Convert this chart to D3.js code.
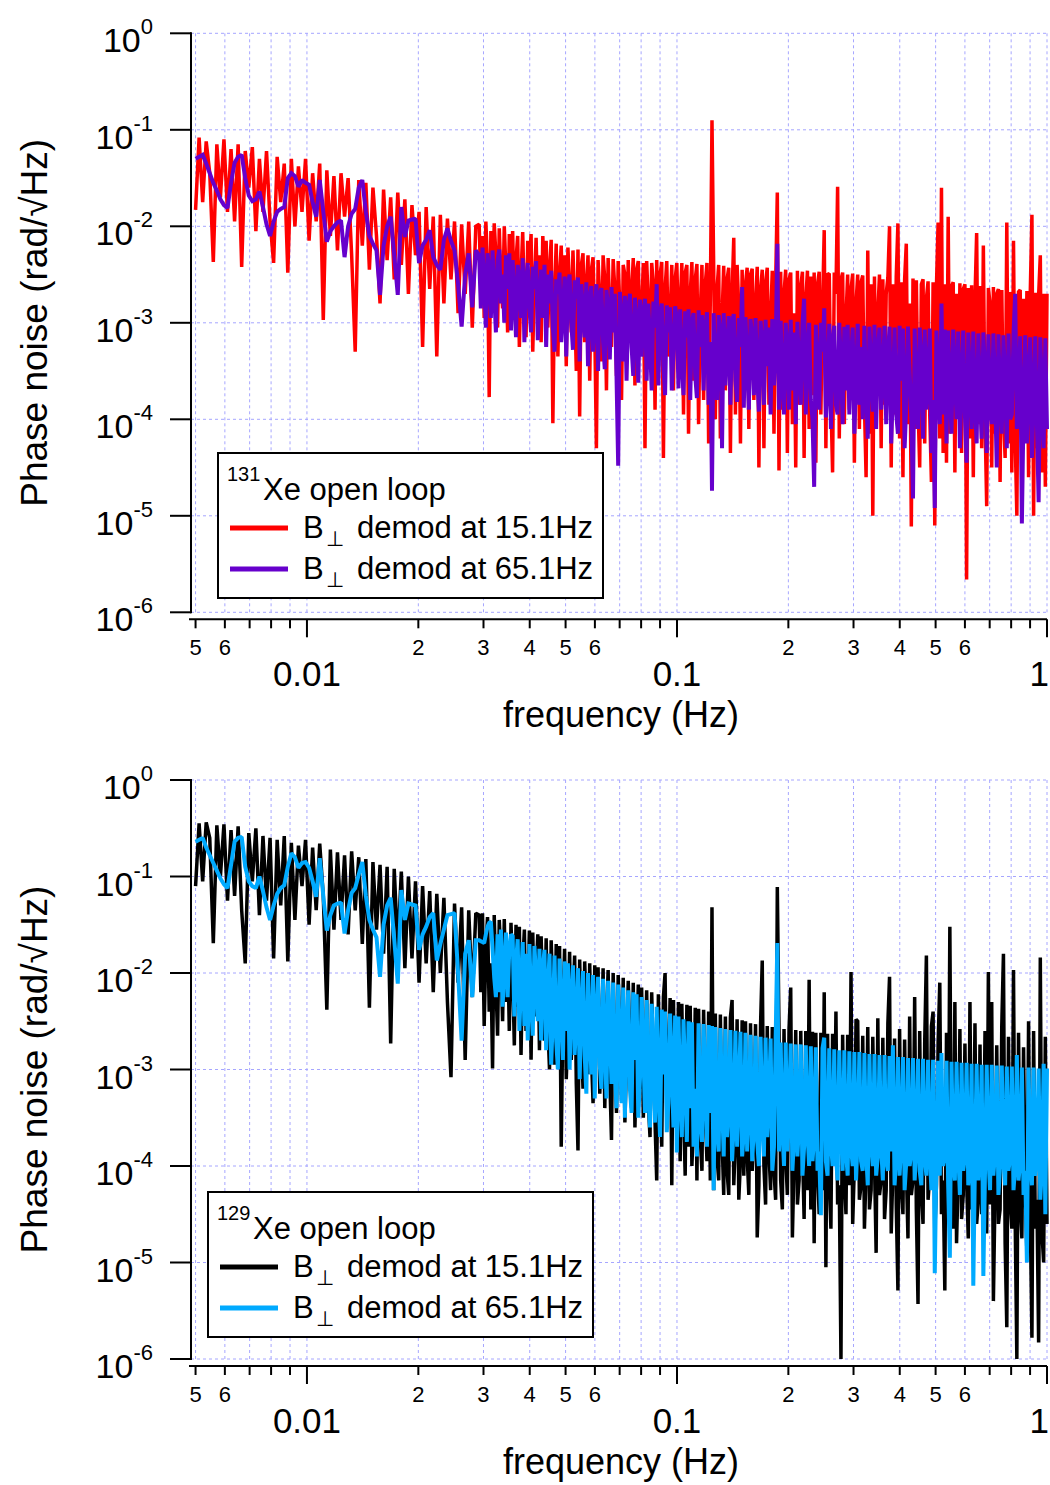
<!DOCTYPE html>
<html>
<head>
<meta charset="utf-8">
<script src="https://cdn.jsdelivr.net/npm/d3@7"></script>
<style>
  body { margin: 0; background: #fff; }
  svg { display: block; }
  text { font-family: "Liberation Sans", Arial, sans-serif; fill: #000; }
</style>
</head>
<body>
<div id="chart"></div>
<script>
// Phase noise spectra, stored as log10(rad/√Hz).
// First 80 bins: log-spaced 0.005–0.0286 Hz; remaining 340 bins: log-spaced 0.0292–1 Hz.
const lowBand = [0.005, 0.0286], lowBins = 80;
const highBand = [0.0292, 1];

// 131Xe, B⊥ demod at 15.1 Hz (red)
const xe131Demod15 = [
  -1.83,-1.08,-1.75,-1.12,-1.45,-2.37,-1.15,-1.70,-1.10,-1.85,
  -1.20,-1.95,-1.15,-2.42,-1.22,-1.60,-1.18,-2.05,-1.30,-1.85,
  -1.22,-1.95,-2.38,-1.28,-1.75,-1.35,-2.48,-1.30,-2.00,-1.38,
  -1.85,-1.30,-2.15,-1.45,-1.95,-1.35,-2.97,-1.42,-2.10,-1.48,
  -2.25,-1.45,-1.90,-1.50,-2.30,-3.30,-1.52,-2.20,-1.55,-2.45,
  -1.60,-2.10,-2.80,-1.62,-2.35,-1.70,-2.55,-1.65,-2.40,-1.72,
  -2.70,-1.78,-2.30,-1.85,-3.25,-1.80,-2.65,-1.90,-3.35,-1.88,
  -2.80,-1.92,-2.55,-1.95,-2.90,-1.98,-2.70,-1.95,-3.05,-2.00,
  // 0.0292 Hz and up
  -1.98,-2.60,-2.10,-2.95,-1.95,-2.40,-3.77,-2.05,-2.70,-1.97,-2.30,-3.05,-2.02,-2.55,-2.85,-2.00,-2.45,-3.10,-2.08,-2.65,
  -2.05,-2.90,-2.35,-2.10,-3.25,-2.50,-2.06,-2.75,-3.15,-2.15,-2.40,-2.08,-3.30,-2.60,-2.12,-2.85,-2.30,-3.20,-2.10,-2.55,
  -2.15,-3.05,-2.45,-2.14,-4.04,-2.70,-2.18,-3.35,-2.50,-2.20,-2.95,-2.30,-3.45,-2.22,-2.65,-3.10,-2.25,-2.80,-3.50,-2.24,
  -3.97,-2.40,-2.28,-3.20,-2.60,-2.30,-3.60,-2.45,-2.32,-3.05,-4.30,-2.35,-2.75,-3.40,-2.30,-2.55,-3.70,-2.33,-2.90,-3.25,
  -2.34,-2.65,-3.55,-2.36,-2.85,-3.80,-2.40,-2.50,-3.30,-2.35,-3.05,-2.70,-2.33,-3.65,-2.45,-2.36,-3.20,-2.90,-2.38,-4.30,
  -2.36,-2.80,-3.45,-2.38,-2.60,-3.90,-2.35,-3.15,-2.50,-2.37,-4.40,-2.65,-2.36,-3.35,-2.95,-2.40,-3.70,-2.55,-2.38,-3.10,
  -2.85,-2.38,-3.95,-2.48,-2.40,-4.15,-2.70,-2.37,-3.60,-2.55,-2.39,-4.05,-2.90,-2.40,-3.80,-2.60,-2.38,-4.25,-2.75,-0.90,
  -2.42,-4.00,-2.65,-2.40,-4.20,-2.95,-2.41,-3.70,-2.55,-2.43,-4.35,-2.70,-2.12,-3.95,-2.40,-2.85,-4.25,-2.45,-3.60,-2.60,
  -2.43,-4.10,-2.50,-2.44,-3.80,-2.80,-2.42,-4.50,-2.65,-2.45,-4.30,-2.58,-2.43,-3.85,-2.95,-2.46,-4.15,-2.60,-1.65,-4.53,
  -2.47,-3.90,-2.70,-2.45,-4.35,-2.55,-2.48,-4.05,-2.90,-4.50,-2.46,-3.85,-2.62,-2.47,-4.40,-2.75,-2.46,-4.10,-2.52,-3.75,
  -2.48,-4.45,-2.60,-2.47,-3.95,-2.85,-2.04,-4.30,-2.50,-2.49,-3.80,-4.55,-2.48,-2.70,-1.59,-4.20,-2.55,-2.48,-4.05,-2.95,
  -2.50,-3.90,-2.65,-2.49,-4.45,-2.80,-2.50,-4.10,-2.58,-2.51,-3.85,-4.60,-2.25,-4.15,-2.60,-5.00,-2.52,-4.00,-2.90,-2.50,
  -4.30,-2.55,-3.85,-2.70,-2.53,-2.00,-4.50,-2.60,-3.95,-2.52,-1.97,-4.20,-2.58,-4.60,-2.55,-2.18,-4.05,-2.80,-5.11,-2.54,
  -4.10,-2.56,-3.85,-4.50,-2.60,-2.55,-4.25,-2.75,-2.57,-3.95,-4.65,-2.58,-5.10,-2.62,-1.96,-4.20,-1.60,-4.35,-2.60,-4.45,
  -1.90,-4.15,-2.62,-2.58,-4.55,-2.70,-3.95,-2.59,-4.35,-2.65,-2.60,-5.66,-2.64,-4.20,-2.61,-4.60,-2.75,-2.07,-4.05,-2.62,
  -4.30,-2.20,-4.00,-4.90,-2.64,-2.80,-4.50,-2.63,-4.15,-2.70,-2.65,-4.65,-2.66,-3.95,-4.40,-1.96,-4.25,-2.68,-4.55,-2.15,
  -4.20,-5.00,-2.68,-2.66,-4.45,-2.75,-4.05,-2.67,-4.60,-2.70,-1.88,-5.00,-2.69,-4.30,-2.72,-2.30,-4.55,-2.70,-4.70,-2.70
];

// 131Xe, B⊥ demod at 65.1 Hz (purple)
const xe131Demod65 = [
  -1.30,-1.28,-1.26,-1.35,-1.45,-1.55,-1.63,-1.72,-1.78,-1.81,
  -1.55,-1.34,-1.28,-1.26,-1.50,-1.68,-1.74,-1.72,-1.64,-1.80,
  -1.98,-2.10,-1.95,-1.85,-1.82,-1.80,-1.50,-1.45,-1.48,-1.59,
  -1.52,-1.55,-1.57,-1.75,-1.90,-1.52,-1.85,-2.16,-2.05,-2.00,
  -1.96,-1.94,-2.32,-2.00,-1.87,-1.82,-1.60,-1.52,-1.85,-2.10,
  -2.18,-2.25,-2.71,-2.20,-2.00,-1.90,-2.30,-2.71,-1.80,-2.11,
  -1.94,-1.93,-1.92,-2.38,-2.20,-2.14,-2.04,-2.32,-2.40,-2.45,
  -2.14,-2.02,-2.15,-2.25,-2.60,-3.04,-2.50,-2.28,-2.84,-2.25,
  // 0.0292 Hz and up
  -2.30,-2.85,-2.22,-2.60,-3.05,-2.28,-2.45,-2.95,-2.25,-2.70,-3.10,-2.35,-2.24,-2.80,-2.50,-3.00,-2.30,-2.65,-2.28,-3.08,
  -2.35,-2.75,-3.15,-2.40,-2.55,-2.95,-2.33,-3.20,-2.60,-2.38,-2.85,-3.10,-2.42,-2.65,-2.36,-3.18,-2.75,-2.45,-2.95,-2.40,
  -3.25,-2.50,-2.80,-2.46,-3.05,-3.30,-2.55,-2.70,-2.48,-3.20,-2.90,-2.52,-3.35,-2.60,-2.50,-3.00,-3.28,-2.56,-2.75,-2.53,
  -3.40,-2.60,-2.90,-3.15,-2.58,-3.45,-2.75,-2.62,-3.30,-2.95,-2.60,-3.50,-2.70,-2.64,-3.20,-3.48,-2.66,-2.85,-3.38,-2.63,
  -3.10,-2.70,-3.55,-4.48,-2.68,-2.95,-3.40,-2.72,-3.60,-2.85,-2.70,-3.25,-3.55,-2.74,-3.00,-3.62,-2.76,-3.35,-2.90,-2.75,
  -3.60,-2.80,-3.20,-3.70,-2.78,-3.05,-2.60,-3.65,-2.90,-2.80,-3.45,-3.75,-2.82,-3.10,-2.84,-3.70,-3.30,-2.83,-2.95,-3.68,
  -2.86,-3.40,-3.75,-2.88,-3.15,-2.86,-3.80,-3.00,-2.90,-3.55,-3.78,-2.87,-3.25,-2.92,-3.70,-3.05,-2.89,-3.85,-3.20,-4.74,
  -2.90,-3.50,-3.80,-2.92,-3.10,-4.30,-2.90,-3.65,-3.30,-2.93,-3.85,-3.00,-2.91,-3.60,-3.82,-2.95,-3.25,-2.63,-3.88,-2.94,
  -3.40,-3.90,-2.96,-3.15,-3.75,-2.95,-3.55,-3.92,-2.98,-3.20,-3.85,-2.97,-3.45,-3.05,-3.95,-2.96,-3.65,-3.30,-2.18,-3.90,
  -2.98,-3.60,-3.95,-3.00,-3.25,-3.90,-2.97,-3.70,-3.10,-4.05,-2.99,-3.50,-3.85,-3.02,-2.75,-3.95,-3.35,-3.00,-3.80,-4.00,
  -4.70,-3.02,-3.55,-3.90,-3.00,-3.30,-2.85,-3.98,-3.65,-3.01,-4.10,-3.20,-3.03,-3.85,-3.95,-3.00,-3.45,-4.05,-3.04,-3.70,
  -3.02,-3.95,-3.40,-3.05,-4.15,-3.60,-3.01,-3.85,-3.25,-4.00,-3.03,-3.70,-4.20,-3.04,-3.50,-3.92,-3.02,-4.10,-3.30,-3.05,
  -3.90,-3.55,-3.03,-4.05,-3.35,-3.04,-4.25,-3.70,-3.05,-3.95,-4.15,-3.03,-3.60,-3.06,-4.30,-3.85,-3.04,-3.50,-4.00,-4.82,
  -3.06,-3.75,-4.10,-3.05,-3.45,-4.20,-3.07,-3.90,-3.60,-3.06,-4.35,-3.80,-4.92,-3.08,-3.55,-4.05,-2.80,-3.95,-3.07,-4.25,
  -3.08,-3.70,-4.15,-3.07,-3.50,-4.00,-3.09,-4.30,-3.65,-3.08,-3.95,-4.45,-3.10,-3.60,-4.10,-3.09,-3.85,-4.25,-3.11,-3.75,
  -4.20,-3.10,-3.55,-4.35,-3.12,-3.90,-4.05,-3.11,-3.70,-4.50,-3.12,-3.80,-4.15,-3.13,-3.65,-4.30,-3.11,-4.00,-3.95,-3.12,
  -2.70,-4.10,-3.75,-3.14,-5.08,-3.90,-3.13,-4.25,-3.60,-3.15,-4.40,-3.85,-3.14,-4.05,-4.86,-3.15,-3.70,-4.30,-3.16,-4.10
];

// 129Xe, B⊥ demod at 15.1 Hz (black)
const xe129Demod15 = [
  -1.10,-0.45,-1.05,-0.44,-0.60,-1.69,-0.47,-1.00,-0.46,-1.25,
  -0.52,-1.20,-0.48,-1.35,-1.90,-0.55,-1.05,-0.50,-1.40,-0.58,
  -1.25,-0.60,-1.85,-0.62,-1.30,-0.58,-1.88,-0.65,-1.45,-0.68,
  -1.10,-0.62,-1.50,-0.70,-1.35,-0.66,-1.20,-2.38,-0.72,-1.55,
  -0.75,-1.45,-0.78,-1.60,-0.74,-1.35,-0.80,-1.70,-0.82,-2.36,
  -0.85,-1.55,-0.88,-1.80,-0.90,-2.73,-0.92,-1.75,-0.95,-1.95,
  -1.00,-1.85,-1.05,-2.10,-1.10,-1.90,-1.15,-2.20,-1.18,-2.00,
  -1.22,-2.30,-3.08,-1.28,-2.10,-1.32,-2.90,-1.35,-2.25,-1.38,
  // 0.0292 Hz and up
  -1.40,-2.20,-1.38,-2.55,-1.75,-1.42,-2.40,-1.90,-2.99,-1.40,-2.10,-2.65,-1.45,-1.85,-2.50,-1.44,-2.30,-1.70,-2.60,-1.48,
  -2.00,-2.75,-1.50,-2.35,-1.52,-2.85,-1.90,-1.55,-2.60,-2.20,-1.56,-2.90,-1.58,-2.45,-2.05,-1.60,-2.80,-1.62,-2.30,-2.70,
  -1.64,-2.55,-3.00,-1.66,-2.25,-2.95,-1.70,-2.70,-1.72,-3.80,-2.40,-1.75,-3.10,-2.60,-1.78,-2.90,-2.30,-1.82,-3.15,-3.84,
  -1.86,-2.65,-3.20,-1.88,-2.45,-3.05,-1.90,-2.85,-3.35,-1.92,-2.60,-1.94,-3.25,-2.75,-1.95,-3.40,-2.50,-1.97,-3.10,-3.73,
  -2.00,-2.80,-3.45,-2.02,-2.60,-3.30,-2.05,-3.55,-2.90,-2.08,-2.70,-3.40,-2.10,-3.60,-2.85,-2.12,-3.20,-2.15,-3.50,-2.95,
  -2.18,-3.35,-3.70,-2.20,-2.90,-3.55,-4.15,-2.22,-3.10,-3.80,-2.25,-2.00,-3.45,-3.05,-2.26,-4.20,-2.28,-3.60,-3.25,-2.30,
  -3.95,-2.32,-3.40,-4.10,-2.33,-3.80,-2.34,-4.00,-3.55,-2.36,-4.15,-2.37,-3.70,-4.05,-2.38,-3.45,-3.95,-2.40,-4.15,-1.32,
  -4.25,-2.42,-3.90,-4.15,-2.43,-3.70,-4.30,-2.45,-4.05,-4.30,-2.46,-2.28,-4.20,-3.75,-2.48,-4.35,-3.95,-2.49,-4.10,-2.50,
  -3.90,-4.30,-2.52,-4.05,-3.70,-2.53,-4.74,-4.20,-2.54,-1.87,-4.00,-4.40,-2.55,-3.85,-4.25,-2.56,-4.05,-4.35,-1.11,-2.57,
  -4.15,-4.45,-2.58,-3.90,-4.30,-2.58,-2.15,-4.74,-3.95,-2.59,-4.40,-4.15,-2.60,-3.80,-4.55,-2.60,-4.25,-2.07,-4.45,-2.61,
  -4.80,-2.62,-4.05,-4.50,-2.62,-4.25,-2.20,-5.05,-2.63,-4.15,-4.65,-2.63,-3.95,-2.40,-4.40,-4.20,-6.00,-2.64,-4.10,-4.50,
  -2.64,-4.20,-1.99,-4.60,-4.00,-2.48,-2.50,-4.35,-4.20,-2.65,-4.65,-4.05,-2.56,-4.45,-4.25,-2.66,-3.95,-4.90,-2.47,-4.30,
  -4.15,-2.67,-4.55,-4.25,-2.52,-2.04,-4.70,-4.05,-2.68,-4.40,-5.29,-2.58,-4.20,-4.50,-2.69,-4.00,-4.75,-2.45,-4.30,-4.15,
  -2.25,-4.45,-5.43,-2.60,-4.25,-4.60,-2.71,-1.82,-4.35,-4.10,-2.55,-2.40,-4.70,-4.20,-2.72,-2.10,-4.50,-4.15,-5.29,-2.62,
  -4.40,-1.52,-4.25,-4.65,-2.30,-4.80,-4.10,-2.58,-4.55,-4.30,-2.73,-4.15,-4.75,-2.30,-4.45,-4.20,-2.52,-4.60,-4.35,-2.74,
  -4.50,-4.20,-2.60,-4.70,-1.99,-4.40,-2.30,-5.40,-4.25,-2.75,-4.60,-4.45,-2.55,-1.80,-4.80,-5.67,-2.66,-4.35,-4.65,-1.97,
  -4.55,-6.00,-2.62,-4.40,-4.75,-2.77,-4.25,-4.90,-2.50,-4.50,-5.78,-2.60,-4.65,-4.35,-5.83,-1.84,-4.70,-5.00,-2.66,-4.60
];

// 129Xe, B⊥ demod at 65.1 Hz (light blue)
const xe129Demod65 = [
  -0.64,-0.62,-0.60,-0.70,-0.78,-0.86,-0.94,-1.02,-1.08,-1.12,
  -0.88,-0.64,-0.60,-0.59,-0.90,-1.05,-1.10,-1.12,-1.00,-1.15,
  -1.32,-1.45,-1.30,-1.18,-1.12,-1.09,-0.90,-0.76,-0.80,-0.91,
  -0.86,-0.85,-0.91,-1.05,-1.21,-0.81,-1.20,-1.56,-1.40,-1.30,
  -1.28,-1.27,-1.59,-1.35,-1.17,-1.12,-0.98,-0.85,-1.20,-1.45,
  -1.55,-1.63,-2.04,-1.50,-1.30,-1.22,-1.65,-2.11,-1.14,-1.45,
  -1.28,-1.29,-1.30,-1.76,-1.60,-1.52,-1.42,-1.38,-1.87,-1.70,
  -1.55,-1.40,-1.39,-1.38,-2.00,-2.70,-1.80,-1.66,-2.25,-1.66,
  // 0.0292 Hz and up
  -1.66,-1.67,-1.68,-1.69,-1.60,-1.52,-1.48,-1.47,-1.75,-2.05,-2.25,-1.60,-2.20,-1.55,-2.35,-1.95,-1.58,-2.25,-1.75,-1.60,
  -1.62,-2.45,-1.90,-1.65,-2.60,-2.10,-1.68,-2.55,-1.80,-2.70,-1.70,-2.30,-2.65,-1.72,-2.05,-2.50,-1.75,-2.70,-1.95,-1.76,
  -2.80,-2.20,-1.80,-2.95,-2.45,-1.82,-2.70,-3.00,-1.85,-2.35,-2.90,-1.88,-2.60,-1.90,-3.00,-2.25,-1.92,-2.85,-2.50,-1.95,
  -3.10,-2.40,-1.98,-2.85,-3.25,-2.00,-2.60,-3.05,-2.02,-3.30,-2.45,-2.04,-2.95,-3.20,-2.06,-2.70,-3.30,-2.08,-2.55,-3.15,
  -2.10,-3.00,-3.40,-2.12,-2.75,-3.35,-2.15,-3.50,-2.60,-2.18,-3.20,-3.45,-2.20,-2.90,-2.22,-3.50,-3.10,-2.25,-2.80,-3.45,
  -2.28,-3.30,-3.60,-2.32,-2.95,-3.55,-2.35,-3.20,-3.70,-2.38,-3.05,-2.40,-3.65,-3.35,-2.42,-3.00,-3.60,-2.44,-3.86,-2.45,
  -3.25,-3.70,-2.48,-3.10,-3.75,-2.50,-3.40,-2.51,-3.80,-3.20,-3.90,-2.52,-3.55,-3.75,-2.53,-3.15,-3.80,-2.54,-3.45,-2.55,
  -4.25,-2.56,-3.60,-3.85,-2.57,-3.30,-3.90,-2.58,-3.70,-3.40,-2.59,-3.95,-3.55,-2.60,-3.80,-3.25,-2.61,-3.90,-3.65,-2.62,
  -3.85,-3.40,-2.64,-3.95,-3.60,-2.65,-3.75,-4.00,-2.66,-3.50,-3.90,-2.67,-3.70,-3.35,-2.68,-4.05,-3.80,-2.69,-1.69,-3.85,
  -2.72,-3.60,-4.00,-2.72,-3.85,-3.45,-2.73,-4.05,-3.70,-2.74,-3.90,-3.55,-2.74,-4.10,-3.80,-2.75,-3.65,-4.00,-2.76,-3.95,
  -3.70,-2.77,-4.05,-3.85,-4.51,-2.78,-2.67,-3.95,-4.10,-2.78,-3.75,-4.00,-2.79,-3.90,-4.15,-2.80,-3.60,-4.05,-2.80,-3.85,
  -4.10,-2.81,-3.80,-4.00,-2.82,-4.15,-3.70,-2.82,-3.95,-4.05,-2.83,-3.85,-4.20,-2.84,-3.75,-4.00,-2.84,-4.10,-3.90,-2.85,
  -3.80,-4.15,-2.85,-3.95,-4.05,-2.86,-3.85,-2.75,-4.20,-3.90,-2.87,-4.10,-3.75,-2.87,-4.25,-3.95,-2.88,-4.00,-3.85,-2.88,
  -4.15,-3.80,-2.89,-4.05,-4.20,-2.89,-3.90,-4.10,-2.90,-3.85,-4.25,-2.90,-5.11,-3.95,-2.91,-4.10,-2.83,-4.00,-3.90,-2.91,
  -4.20,-4.95,-2.92,-3.95,-4.15,-2.92,-3.85,-4.30,-2.93,-4.05,-3.90,-2.93,-4.20,-4.00,-2.94,-5.24,-3.95,-2.94,-4.15,-3.85,
  -2.95,-5.14,-4.05,-2.95,-3.90,-4.25,-2.95,-4.10,-3.85,-2.96,-4.30,-4.00,-2.96,-3.95,-4.20,-2.97,-4.05,-3.90,-2.97,-4.25,
  -4.00,-2.85,-4.15,-3.95,-2.98,-4.30,-4.05,-5.00,-2.98,-3.90,-4.20,-2.98,-4.10,-3.95,-2.99,-4.35,-4.00,-2.94,-4.50,-2.99
];

const yDecades = [0, -1, -2, -3, -4, -5, -6];
const xMajorLabels = { 0.01: '0.01', 0.1: '0.1', 1: '1' };
const xMinorLabelDigits = [2, 3, 4, 5, 6];

const panels = [
    {
        top: 33.3,
        isotope: '131',
        legendAt: [218, 453],
        series: [
            { values: xe131Demod15, color: '#ff0000', width: 3.5, label: 'demod at 15.1Hz' },
            { values: xe131Demod65, color: '#6600cc', width: 4, label: 'demod at 65.1Hz' }
        ]
    },
    {
        top: 780,
        isotope: '129',
        legendAt: [208, 1192],
        series: [
            { values: xe129Demod15, color: '#000000', width: 3.5, label: 'demod at 15.1Hz' },
            { values: xe129Demod65, color: '#00aaff', width: 4, label: 'demod at 65.1Hz' }
        ]
    }
];

const W = 1050, H = 1485;
const xLeft = 191, xRight = 1047;
const plotH = 579;
const gridColor = '#a6a6ff';

const svg = d3.select('#chart').append('svg')
    .attr('width', W)
    .attr('height', H);

const x = d3.scaleLog().domain([0.00486, 1]).range([xLeft, xRight]);

function logSpaced(band, n, i) {
    const lo = Math.log10(band[0]), hi = Math.log10(band[1]);
    return Math.pow(10, lo + (hi - lo) * i / (n - 1));
}

function toPoints(values) {
    const nHigh = values.length - lowBins;
    return values.map((v, i) => ({
        f: i < lowBins ? logSpaced(lowBand, lowBins, i) : logSpaced(highBand, nHigh, i - lowBins),
        v: Math.pow(10, v)
    }));
}

function isDecade(t) {
    const e = Math.log10(t);
    return Math.abs(e - Math.round(e)) < 1e-9;
}

function mantissa(t) {
    return Math.round(t / Math.pow(10, Math.floor(Math.log10(t) + 1e-9)));
}

function drawPanel(p) {
    const y = d3.scaleLog().domain([1e-6, 1]).range([p.top + plotH, p.top]);
    const g = svg.append('g');
    const xTicks = x.ticks().filter(t => t >= 0.005 - 1e-9);
    const axisY = p.top + plotH + 7;

    // grid
    g.append('g').selectAll('line')
        .data(xTicks)
        .join('line')
        .attr('x1', d => x(d)).attr('x2', d => x(d))
        .attr('y1', p.top).attr('y2', p.top + plotH)
        .attr('stroke', gridColor)
        .attr('stroke-width', 1)
        .attr('stroke-dasharray', '3,3');

    g.append('g').selectAll('line')
        .data(yDecades)
        .join('line')
        .attr('x1', xLeft).attr('x2', xRight)
        .attr('y1', d => y(Math.pow(10, d))).attr('y2', d => y(Math.pow(10, d)))
        .attr('stroke', gridColor)
        .attr('stroke-width', 1)
        .attr('stroke-dasharray', '3,3');

    // traces
    const line = d3.line()
        .x(d => x(d.f))
        .y(d => y(d.v));

    p.series.forEach(s => {
        g.append('path')
            .datum(toPoints(s.values))
            .attr('d', line)
            .attr('fill', 'none')
            .attr('stroke', s.color)
            .attr('stroke-width', s.width)
            .attr('stroke-linejoin', 'miter')
            .attr('stroke-miterlimit', 1.5);
    });

    // left axis
    g.append('line')
        .attr('x1', xLeft).attr('x2', xLeft)
        .attr('y1', p.top - 1).attr('y2', p.top + plotH + 1)
        .attr('stroke', '#000').attr('stroke-width', 2);

    const yt = g.append('g').selectAll('g')
        .data(yDecades)
        .join('g')
        .attr('transform', d => `translate(0,${y(Math.pow(10, d))})`);
    yt.append('line')
        .attr('x1', xLeft - 21).attr('x2', xLeft)
        .attr('stroke', '#000').attr('stroke-width', 2);
    const ytText = yt.append('text')
        .attr('x', 153)
        .attr('y', 19)
        .attr('text-anchor', 'end')
        .style('font-size', '34px');
    ytText.append('tspan').text('10');
    ytText.append('tspan')
        .attr('dy', -18)
        .style('font-size', '22px')
        .text(d => String(d));

    // bottom axis
    g.append('line')
        .attr('x1', xLeft - 2).attr('x2', xRight)
        .attr('y1', axisY).attr('y2', axisY)
        .attr('stroke', '#000').attr('stroke-width', 2);

    g.append('g').selectAll('line')
        .data(xTicks)
        .join('line')
        .attr('x1', d => x(d)).attr('x2', d => x(d))
        .attr('y1', axisY)
        .attr('y2', d => axisY + (isDecade(d) ? 18 : 9))
        .attr('stroke', '#000').attr('stroke-width', 2);

    g.append('g').selectAll('text')
        .data(xTicks.filter(t => !isDecade(t) && xMinorLabelDigits.includes(mantissa(t))))
        .join('text')
        .attr('x', d => x(d))
        .attr('y', axisY + 36)
        .attr('text-anchor', 'middle')
        .style('font-size', '22px')
        .text(d => mantissa(d));

    g.append('g').selectAll('text')
        .data(xTicks.filter(isDecade))
        .join('text')
        .attr('x', d => d === 1 ? W - 1 : x(d))
        .attr('y', axisY + 67)
        .attr('text-anchor', d => d === 1 ? 'end' : 'middle')
        .style('font-size', '35px')
        .text(d => xMajorLabels[d]);

    g.append('text')
        .attr('x', (xLeft + xRight) / 2 + 2)
        .attr('y', axisY + 108)
        .attr('text-anchor', 'middle')
        .style('font-size', '36px')
        .text('frequency (Hz)');

    g.append('text')
        .attr('transform', `translate(47,${p.top + plotH / 2}) rotate(-90)`)
        .attr('text-anchor', 'middle')
        .style('font-size', '37px')
        .text('Phase noise (rad/\u221AHz)');

    drawLegend(g, p);
}

function drawLegend(g, p) {
    const [lx, ly] = p.legendAt;
    const lg = g.append('g').attr('transform', `translate(${lx},${ly})`);
    lg.append('rect')
        .attr('width', 385).attr('height', 145)
        .attr('fill', '#fff')
        .attr('stroke', '#000').attr('stroke-width', 2);

    lg.append('text').attr('x', 9).attr('y', 28)
        .style('font-size', '20px').text(p.isotope);
    lg.append('text').attr('x', 45).attr('y', 47)
        .style('font-size', '31px').text('Xe open loop');

    p.series.forEach((s, i) => {
        const rowY = 75 + i * 41;
        lg.append('line')
            .attr('x1', 12).attr('x2', 70)
            .attr('y1', rowY).attr('y2', rowY)
            .attr('stroke', s.color).attr('stroke-width', 5);
        lg.append('text').attr('x', 85).attr('y', rowY + 10)
            .style('font-size', '31px').text('B');
        lg.append('text').attr('x', 108).attr('y', rowY + 18)
            .style('font-size', '21px').text('\u22A5');
        lg.append('text').attr('x', 139).attr('y', rowY + 10)
            .style('font-size', '31px').text(s.label);
    });
}

panels.forEach(drawPanel);
</script>
</body>
</html>
